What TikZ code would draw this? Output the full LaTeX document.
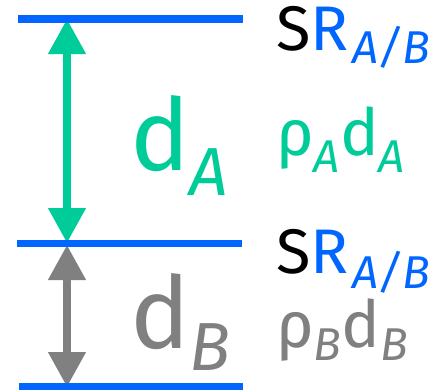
\documentclass[tikz,border=0pt]{standalone}
\usepackage{fontspec}
\setmainfont{Fira Sans}
\usetikzlibrary{arrows.meta}
\definecolor{lblue}{RGB}{0,102,255}
\definecolor{lgreen}{RGB}{0,204,153}
\definecolor{lgray}{RGB}{128,128,128}
\newcommand{\fsz}[1]{\fontsize{#1}{#1}\selectfont}
\begin{document}
\begin{tikzpicture}[x=1pt,y=-1pt,
  level/.style={draw=lblue,line width=7.5pt},
  dimarrow/.style={line width=7.5pt,{Triangle[width=36pt,length=35pt]}-{Triangle[width=36pt,length=35pt]}},
  lbl/.style={anchor=base west,inner sep=0pt,outer sep=0pt}]
\useasboundingbox (0,0) rectangle (442,391);
% coordinates
\coordinate (t1) at (18,19);   \coordinate (t2) at (243,19);
\coordinate (m1) at (17,243.5); \coordinate (m2) at (242,243.5);
\coordinate (b1) at (19,386.5); \coordinate (b2) at (243,386.5);
\coordinate (ga) at (67,19);  \coordinate (gb) at (67,243);
\coordinate (ya) at (67,245); \coordinate (yb) at (67,387);
% arrows
\draw[dimarrow,lgreen] (ga) -- (gb);
\draw[dimarrow,lgray] (ya) -- (yb);
% levels
\draw[level] (t1) -- (t2);
\draw[level] (m1) -- (m2);
\draw[level] (b1) -- (b2);
% labels
\node[lbl] (sr1) at (276,50) {\fsz{63}S\textcolor{lblue}{R\hspace{4pt}\raisebox{-13pt}{\fsz{46}\itshape A/B}}};
\node[lbl] (sr2) at (276,273) {\fsz{63}S\textcolor{lblue}{R\hspace{4pt}\raisebox{-15pt}{\fsz{46}\itshape A/B}}};
\node[lbl,text=lgreen] (dA) at (130,170) {\fsz{100}d\raisebox{-25pt}{\fsz{68}\itshape A}};
\node[lbl,text=lgray] (dB) at (130,348) {\fsz{100}d\raisebox{-22pt}{\fsz{68}\itshape B}};
\node[lbl,text=lgreen] (rA) at (276,155) {\fsz{65}ρ\raisebox{-17pt}{\fsz{46}\itshape A}d\raisebox{-17pt}{\fsz{46}\itshape A}};
\node[lbl,text=lgray] (rB) at (276,347) {\fsz{65}ρ\raisebox{-13pt}{\fsz{46}\itshape B}d\raisebox{-13pt}{\fsz{46}\itshape B}};
\end{tikzpicture}
\end{document}
